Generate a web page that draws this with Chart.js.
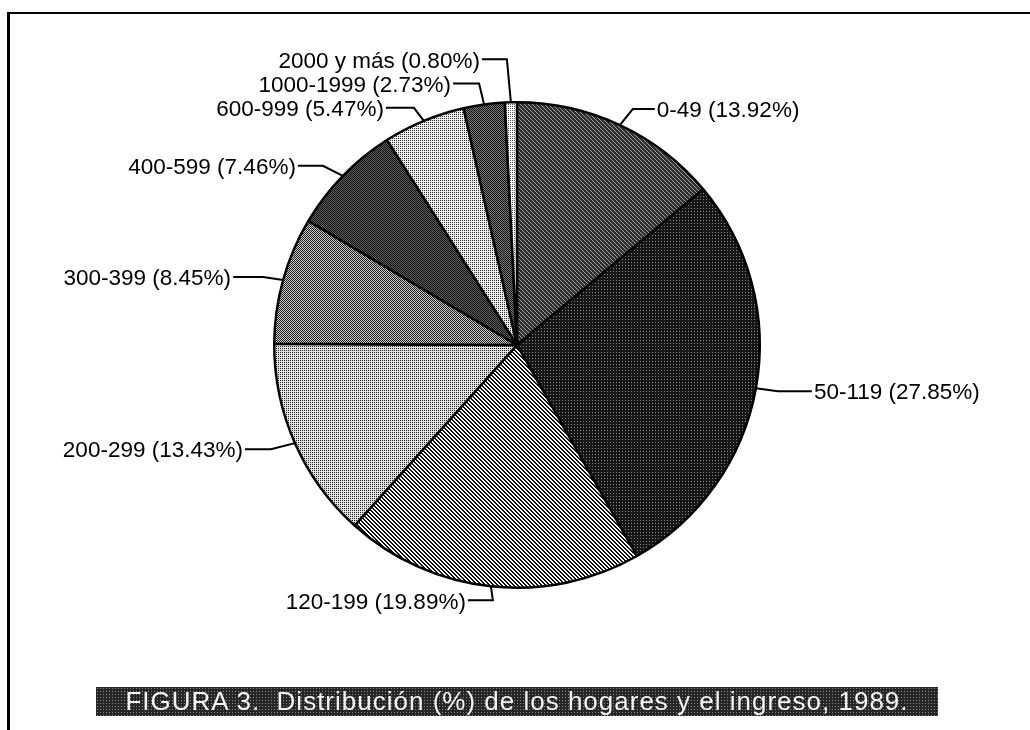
<!DOCTYPE html>
<html>
<head>
<meta charset="utf-8">
<script src="https://cdn.jsdelivr.net/npm/chart.js@4.4.0/dist/chart.umd.min.js"></script>
<style>
  html, body { margin: 0; padding: 0; background: #fff; }
  #wrap { position: relative; width: 1030px; height: 730px; overflow: hidden; }
  #frame { position: absolute; left: 7px; top: 12px; right: -5px; bottom: -5px; border-left: 3px solid #000; border-top: 2px solid #000; }
  #pie { position: absolute; left: 0; top: 0; }
  #caption {
    position: absolute; left: 96px; top: 687px; width: 842px; height: 29px;
    background: radial-gradient(#8a8a8a 0.7px, transparent 0.9px) 0 0 / 3px 3px, #262626;
    color: #f4f4f4; font: 26px 'Liberation Sans', Arial, sans-serif; letter-spacing: 1px;
    text-align: center; line-height: 29px; white-space: pre;
  }
</style>
</head>
<body>
<div id="wrap">
  <div id="frame"></div>
  <canvas id="pie" width="1030" height="730"></canvas>
  <div id="caption">FIGURA 3.  Distribución (%) de los hogares y el ingreso, 1989.</div>
</div>
<script>
// ingreso por hogar, de arriba en sentido horario
const categories = ['0-49', '50-119', '120-199', '200-299', '300-399', '400-599', '600-999', '1000-1999', '2000 y más']
const shares = [13.92, 27.85, 19.89, 13.43, 8.45, 7.46, 5.47, 2.73, 0.80]

// small pixel patterns to imitate the printed screens
function makePattern(size, bg, fg, pixels) {
  const c = document.createElement('canvas')
  c.width = size
  c.height = size
  const g = c.getContext('2d')
  g.fillStyle = bg
  g.fillRect(0, 0, size, size)
  g.fillStyle = fg
  pixels.forEach(([px, py]) => g.fillRect(px, py, 1, 1))
  return g.createPattern(c, 'repeat')
}

const diag = [[0, 0], [1, 1], [2, 2], [3, 3]]
const diagWide = [[0, 0], [1, 1], [2, 2], [3, 3], [1, 0], [2, 1], [3, 2], [0, 3]]
const checker = [[0, 0], [1, 1]]

const fills = [
  makePattern(4, '#2e2e2e', '#a0a0a0', diag),          // 0-49
  makePattern(3, '#161616', '#8a8a8a', [[1, 1]]),      // 50-119
  makePattern(4, '#ffffff', '#111111', diagWide),      // 120-199
  makePattern(2, '#e2e2e2', '#222222', [[0, 0]]),      // 200-299
  makePattern(2, '#d0d0d0', '#1a1a1a', checker),       // 300-399
  makePattern(2, '#5e5e5e', '#111111', checker),       // 400-599
  makePattern(2, '#f0f0f0', '#2a2a2a', [[0, 0]]),      // 600-999
  makePattern(2, '#7a7a7a', '#111111', checker),       // 1000-1999
  makePattern(2, '#ffffff', '#555555', [[0, 0]]),      // 2000 y más
]

// leader line: [elbow dx, elbow dy, horizontal run] from the slice's edge
const leaders = [
  [13, -16, 22],
  [22, 3, 34],
  [2, 14, -25],
  [-24, 6, -26],
  [-20, -3, -30],
  [-20, -10, -25],
  [-10, -13, -28],
  [-5, -21, -26],
  [-4, -43, -25],
]

const leaderLabels = {
  id: 'leaderLabels',
  afterDatasetsDraw(chart) {
    const { ctx } = chart
    const meta = chart.getDatasetMeta(0)
    ctx.save()
    ctx.strokeStyle = '#000'
    ctx.lineWidth = 2
    ctx.fillStyle = '#000'
    ctx.font = "22.5px 'Liberation Sans', Arial, sans-serif"
    ctx.textBaseline = 'middle'
    meta.data.forEach((arc, i) => {
      const { x, y, startAngle, endAngle, outerRadius } = arc.getProps(['x', 'y', 'startAngle', 'endAngle', 'outerRadius'], true)
      const mid = (startAngle + endAngle) / 2
      const ax = x + Math.cos(mid) * outerRadius
      const ay = y + Math.sin(mid) * outerRadius
      const [dx, dy, run] = leaders[i]
      const ex = ax + dx
      const ey = ay + dy
      const tx = ex + run
      ctx.beginPath()
      ctx.moveTo(ax, ay)
      ctx.lineTo(ex, ey)
      ctx.lineTo(tx, ey)
      ctx.stroke()
      const text = `${categories[i]} (${shares[i].toFixed(2)}%)`
      ctx.textAlign = run < 0 ? 'right' : 'left'
      ctx.fillText(text, tx + (run < 0 ? -2 : 2), ey + 2)
    })
    ctx.restore()
  },
}

new Chart(document.getElementById('pie'), {
  type: 'pie',
  data: {
    labels: categories,
    datasets: [
      {
        data: shares,
        backgroundColor: fills,
        borderColor: '#000',
        borderWidth: 2.5,
      },
    ],
  },
  options: {
    responsive: false,
    animation: false,
    layout: {
      padding: { left: 273, right: 269, top: 101, bottom: 141 },
    },
    plugins: {
      legend: { display: false },
      tooltip: { enabled: false },
    },
  },
  plugins: [leaderLabels],
})
</script>
</body>
</html>
